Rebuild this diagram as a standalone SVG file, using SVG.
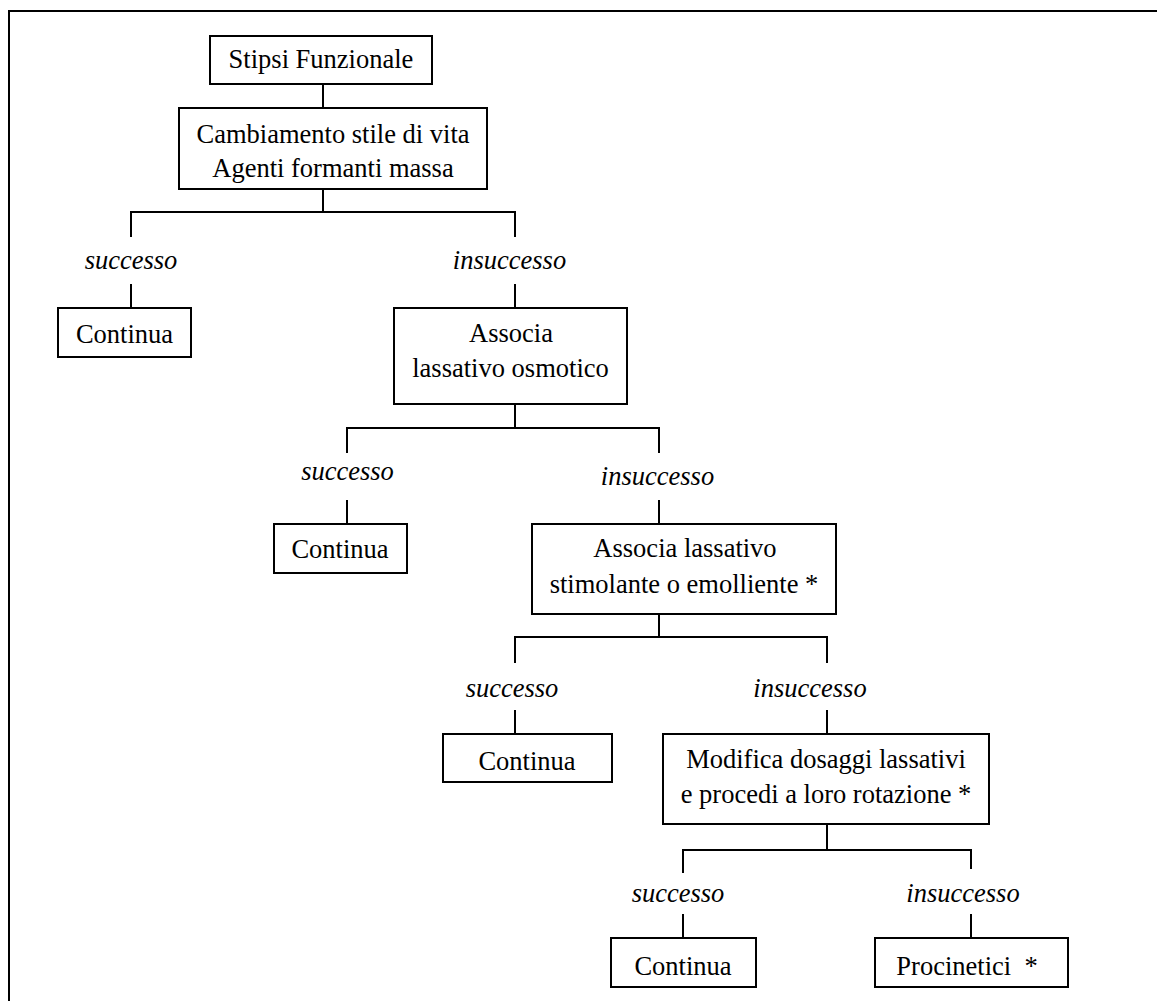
<svg xmlns="http://www.w3.org/2000/svg" width="1157" height="1001" viewBox="0 0 1157 1001">
<style>
.box{fill:#fff;stroke:#000;stroke-width:2}
.ln{fill:none;stroke:#000;stroke-width:2}
.t{font-family:"Liberation Serif","Times New Roman",serif;font-size:26.5px;fill:#000;text-anchor:middle}
.i{font-style:italic}
</style>
<rect width="1157" height="1001" fill="#fff"/>
<path class="ln" d="M9,1001 V11 H1157"/>
<g id="connectors">
<path class="ln" d="M323,84 V108"/>
<path class="ln" d="M323,189 V212 M131,237 V212 H515 V237"/>
<path class="ln" d="M131,284 V308 M515,284 V308"/>
<path class="ln" d="M515,404 V428 M347,453 V428 H659 V453"/>
<path class="ln" d="M347,500 V524 M659,500 V524"/>
<path class="ln" d="M659,614 V637 M515,663 V637 H827 V663"/>
<path class="ln" d="M515,710 V734 M827,710 V734"/>
<path class="ln" d="M827,824 V850 M683,873 V850 H971 V869"/>
<path class="ln" d="M683,914 V938 M971,914 V938"/>
</g>
<g id="labels">
<text class="t i" x="131" y="268.5">successo</text>
<text class="t i" x="509.5" y="268.5">insuccesso</text>
<text class="t i" x="347.5" y="480">successo</text>
<text class="t i" x="657.5" y="485">insuccesso</text>
<text class="t i" x="512" y="697">successo</text>
<text class="t i" x="810" y="697">insuccesso</text>
<text class="t i" x="678" y="902">successo</text>
<text class="t i" x="963" y="902">insuccesso</text>
</g>
<g id="n1"><rect class="box" x="210" y="36" width="222" height="48"/><text class="t" x="321" y="68">Stipsi Funzionale</text></g>
<g id="n2"><rect class="box" x="179" y="108" width="308" height="81"/><text class="t" x="333" y="142.5">Cambiamento stile di vita</text><text class="t" x="333" y="177">Agenti formanti massa</text></g>
<g id="n3"><rect class="box" x="58" y="308" width="133" height="49"/><text class="t" x="124.5" y="343">Continua</text></g>
<g id="n4"><rect class="box" x="394" y="308" width="233" height="96"/><text class="t" x="511" y="342">Associa</text><text class="t" x="510.5" y="377">lassativo osmotico</text></g>
<g id="n5"><rect class="box" x="274" y="524" width="133" height="49"/><text class="t" x="340" y="558">Continua</text></g>
<g id="n6"><rect class="box" x="532" y="524" width="304" height="90"/><text class="t" x="685" y="557">Associa lassativo</text><text class="t" x="684" y="593">stimolante o emolliente *</text></g>
<g id="n7"><rect class="box" x="443" y="734" width="169" height="48"/><text class="t" x="527" y="770">Continua</text></g>
<g id="n8"><rect class="box" x="663" y="734" width="326" height="90"/><text class="t" x="826" y="768">Modifica dosaggi lassativi</text><text class="t" x="826" y="803">e procedi a loro rotazione *</text></g>
<g id="n9"><rect class="box" x="611" y="938" width="145" height="49"/><text class="t" x="683" y="975">Continua</text></g>
<g id="n10"><rect class="box" x="875" y="938" width="193" height="49"/><text class="t" x="967" y="975" xml:space="preserve">Procinetici  *</text></g>
</svg>
